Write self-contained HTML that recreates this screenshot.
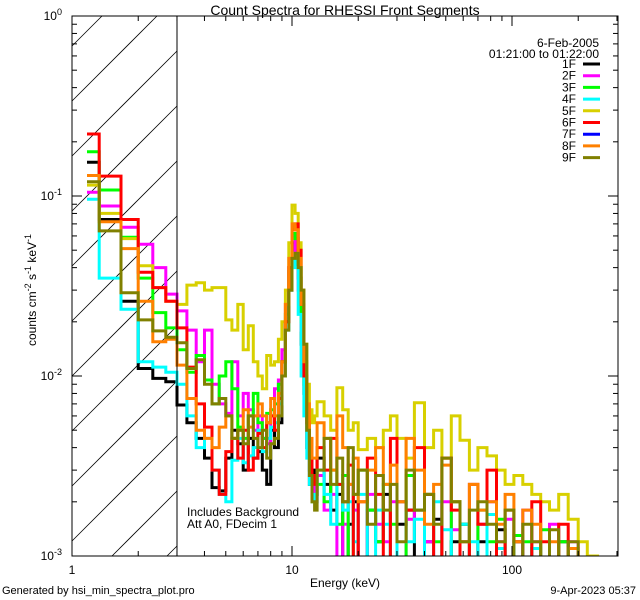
<!DOCTYPE html>
<html><head><meta charset="utf-8">
<style>
html,body{margin:0;padding:0;background:#fff;width:640px;height:600px;overflow:hidden;}
svg{display:block;font-family:"Liberation Sans","DejaVu Sans",sans-serif;}
</style></head>
<body>
<svg id="chart" width="640" height="600" viewBox="0 0 640 600" xmlns="http://www.w3.org/2000/svg">
<defs><clipPath id="plotclip"><rect x="72" y="16" width="546" height="540"/></clipPath></defs>
<rect x="0" y="0" width="640" height="600" fill="#fff"/>
<text x="345" y="15" font-size="14" text-anchor="middle">Count Spectra for RHESSI Front Segments</text>
<g id="hatch"></g>
<g id="series" clip-path="url(#plotclip)"></g>
<rect x="72" y="16" width="546" height="540" fill="none" stroke="#000" stroke-width="1"/>
<line x1="177" y1="16" x2="177" y2="556" stroke="#000" stroke-width="1"/>
<g id="ticks"></g>
<text transform="translate(36,290) rotate(-90)" font-size="12" text-anchor="middle">counts cm<tspan dy="-5" font-size="9">-2</tspan><tspan dy="5"> s</tspan><tspan dy="-5" font-size="9">-1</tspan><tspan dy="5"> keV</tspan><tspan dy="-5" font-size="9">-1</tspan></text>
<text x="345" y="587" font-size="12" text-anchor="middle">Energy (keV)</text>
<text x="187" y="516" font-size="12">Includes Background</text>
<text x="187" y="528" font-size="12">Att A0, FDecim 1</text>
<text x="599" y="47" font-size="12" text-anchor="end">6-Feb-2005</text>
<text x="599" y="58" font-size="12" text-anchor="end">01:21:00 to 01:22:00</text>
<g id="legend"></g>
<text x="2" y="594" font-size="11">Generated by hsi_min_spectra_plot.pro</text>
<text x="636" y="594" font-size="11" text-anchor="end">9-Apr-2023 05:37</text>
</svg>
<script>
const edges = [1.17,1.33,1.67,2,2.33,2.67,3,3.33,3.67,4,4.33,4.67,5,5.33,5.67,6,6.33,6.67,7,7.33,7.67,8,8.33,8.67,9,9.33,9.67,10,10.33,10.67,11,11.33,11.67,12,12.33,12.67,13,
14,15,16,17,18,19,20,22,24,26,28,30,33,36,40,44,48,53,58,64,70,77,85,93,102,112,123,135,148,163,180,200,220,245,270,300];
const seriesNames = ["1F","2F","3F","4F","5F","6F","7F","8F","9F"];
const seriesColors = ["#000000","#ff00ff","#00ff00","#00ffff","#d8d000","#ff0000","#0000ff","#ff8000","#808000"];
const s1F = [0.154,0.074,0.026,0.011,0.0097,0.0093,0.0069,0.0055,0.0045,0.0035,0.0024,0.0023,0.0035,0.0050,0.0042,0.0030,0.0045,0.0035,0.0038,0.0030,0.0025,0.0050,0.0040,0.0055,0.012,0.020,0.030,0.055,0.050,0.035,0.015,0.008,0.004,0.0025,0.003,0.0022,
0.0035,0.0025,0.0018,0.0022,0,0.0015,0.0020,0,0.0018,0.0012,0.0022,0,0.0015,0.0018,0,0.0012,0.0016,0,0.0012,0.0015,0,0.0012,0,0.0014,0,0.0012,0,0.0011,0,0,0.0012,0,0,0,0,0];
const s2F = [0.105,0.088,0.067,0.054,0.040,0.0285,0.023,0.018,0.012,0.018,0.009,0.007,0.0062,0.012,0.006,0.008,0.0065,0.005,0.006,0.0045,0.0042,0.006,0.0085,0.0095,0.014,0.025,0.040,0.060,0.050,0.030,0.018,0.010,0.005,0.003,0.0025,0.002,
0.0028,0.0018,0.0022,0,0.0015,0.0025,0.0018,0,0.0022,0.0015,0.0012,0.0020,0,0.0016,0.0018,0.0012,0,0.0020,0.0014,0.0012,0,0.0015,0.0020,0.0012,0.0016,0,0.0018,0.0012,0,0.0015,0,0.0012,0,0,0,0];
const s3F = [0.176,0.108,0.059,0.035,0.0225,0.0185,0.014,0.0105,0.013,0.0095,0.0070,0.010,0.0120,0.0085,0.0052,0.0045,0.0060,0.0080,0.0055,0.0045,0.0062,0.0065,0.0070,0.0090,0.012,0.022,0.038,0.062,0.058,0.040,0.020,0.009,0.005,0.003,0.002,0.0022,
0.0025,0.0020,0.0030,0.0015,0.0028,0,0.0022,0.0030,0.0018,0.0012,0.0025,0.0015,0,0.0028,0.0018,0.0022,0.0012,0,0.0020,0.0015,0,0.0018,0.0012,0.0016,0,0.0013,0.0012,0,0.0014,0,0.0012,0,0,0,0,0];
const s4F = [0.096,0.035,0.0235,0.012,0.0112,0.0105,0.0090,0.0060,0.0040,0.0045,0.0030,0.0022,0.0020,0.0034,0.0045,0.0033,0.0036,0.0040,0.0050,0.0038,0.0045,0.0052,0.0055,0.0070,0.010,0.018,0.030,0.045,0.040,0.022,0.010,0.006,0.0035,0.0025,0.0022,0.002,
0.0030,0.0022,0.0015,0.0025,0.0018,0.0020,0.0012,0.0022,0,0.0018,0.0015,0,0.0020,0.0012,0.0016,0,0.0020,0.0014,0,0.0015,0.0012,0,0.0017,0.0011,0,0.0012,0,0.0011,0,0,0,0,0,0,0,0];
const s5F = [0.115,0.080,0.058,0.041,0.031,0.026,0.025,0.032,0.033,0.030,0.031,0.031,0.0205,0.018,0.025,0.014,0.019,0.012,0.010,0.0085,0.0130,0.0115,0.0120,0.0160,0.020,0.030,0.055,0.089,0.080,0.055,0.030,0.015,0.009,0.0065,0.0055,0.0060,
0.0072,0.0060,0.0050,0.0086,0.0065,0.0050,0.0055,0.0039,0.0045,0.0040,0.0050,0.0060,0.0045,0.0035,0.0071,0.0040,0.0050,0.0035,0.0060,0.0044,0.0030,0.0040,0.0036,0.0030,0.0025,0.0028,0.0025,0.0022,0.0020,0.0018,0.0022,0.0016,0.0012,0.0010,0,0];
const s6F = [0.221,0.129,0.074,0.0377,0.031,0.026,0.0185,0.0112,0.0070,0.0052,0.0030,0.0022,0.0038,0.0045,0.0035,0.0050,0.0030,0.0035,0.0048,0.0040,0.0055,0.0060,0.0050,0.0075,0.012,0.020,0.040,0.065,0.070,0.050,0.025,0.010,0.0055,0.0035,0.0025,0.0028,
0.0040,0.0030,0.0045,0.0025,0.0020,0.0032,0,0.0020,0.0035,0.0022,0,0.0045,0.0020,0.0018,0.0040,0.0022,0,0.0035,0.0018,0,0.0025,0.0015,0.0030,0,0.0018,0.0012,0,0.0020,0.0012,0,0.0015,0,0,0,0,0];
const s7F = [];
const s8F = [0.13,0.072,0.051,0.026,0.0155,0.016,0.0115,0.0075,0.0050,0.0045,0.0040,0.0052,0.0060,0.0045,0.0050,0.0065,0.0052,0.0060,0.0070,0.0060,0.0055,0.0075,0.0060,0.0080,0.012,0.025,0.045,0.070,0.065,0.045,0.025,0.012,0.007,0.0045,0.0035,0.0035,
0.0055,0.0045,0.0030,0.0060,0.0040,0.0025,0.0035,0.0020,0.0030,0.0040,0.0025,0.0032,0.0020,0.0045,0.0030,0.0015,0.0025,0.0032,0.0020,0.0012,0.0025,0.0018,0.0020,0.0015,0.0022,0.0012,0.0018,0.0015,0,0.0012,0,0.0011,0,0,0,0];
const s9F = [0.12,0.064,0.029,0.0205,0.0178,0.0164,0.0153,0.011,0.0123,0.0090,0.0070,0.0075,0.0060,0.0045,0.0050,0.0042,0.0060,0.0045,0.0040,0.0050,0.0035,0.0042,0.0045,0.0060,0.010,0.018,0.030,0.045,0.048,0.040,0.030,0.015,0.005,0.0028,0.0020,0.0018,
0.0030,0.0045,0.0025,0.0035,0.0020,0.0040,0.0022,0.0030,0.0015,0.0028,0.0018,0.0025,0.0012,0.0030,0.0018,0.0022,0.0015,0.0035,0.0020,0.0012,0.0018,0.0020,0.0015,0.0012,0.0018,0,0.0015,0.0012,0,0.0014,0,0.0012,0,0,0,0];
const seriesValues = [s1F,s2F,s3F,s4F,s5F,s6F,s7F,s8F,s9F];
const xDecadeLabels = ["1","10","100"];
const yDecadeExps = [0,-1,-2,-3];

const NS = "http://www.w3.org/2000/svg";
const X0 = 72, X1 = 618, Y0 = 16, Y1 = 556, XDEC = 220, YDEC = 180, XH = 177;
function xs(e){ return X0 + XDEC*Math.log10(e); }
function ys(v){ return v>0 ? Y0 - YDEC*Math.log10(v) : Y1 + 4; }
function mk(tag, attrs, parent){ const el=document.createElementNS(NS,tag); for(const k in attrs) el.setAttribute(k,attrs[k]); parent.appendChild(el); return el; }

// hatch: lines y = c - (x - X0), clipped to [X0,XH]x[Y0,Y1]
const hatch = document.getElementById('hatch');
for(let c=Y0+30;c<Y1+(XH-X0);c+=55){
  // start point (lower-left)
  let xa = X0, ya = c;
  if(ya > Y1){ xa = X0 + (ya - Y1); ya = Y1; }
  let xb = XH, yb = c - (XH - X0);
  if(yb < Y0){ xb = X0 + (c - Y0); yb = Y0; }
  if(xa >= xb) continue;
  const ln = mk('line',{x1:xa,y1:ya,x2:xb,y2:yb,stroke:'#000','stroke-width':0.8},hatch);
  
  
}

const sg = document.getElementById('series');
seriesValues.forEach((vals,si)=>{
  if(!vals.length) return;
  let d = '';
  for(let i=0;i<vals.length;i++){
    const y = ys(vals[i]).toFixed(1);
    const xa = xs(edges[i]).toFixed(1), xb = Math.min(xs(edges[i+1]),X1).toFixed(1);
    d += (i===0 ? 'M'+xa+','+y : 'L'+xa+','+y) + ' L'+xb+','+y+' ';
  }
  const p = mk('path',{d:d,fill:'none',stroke:seriesColors[si],'stroke-width':3,'stroke-linejoin':'miter'},sg);
  
  
});

const tg = document.getElementById('ticks');
for(let dec=0;dec<3;dec++){
  for(let m=1;m<=9;m++){
    const e = Math.pow(10,dec)*m; const x = xs(e);
    if(x>X1) continue;
    const L = m===1?10:5;
    const t1 = mk('line',{x1:x,y1:Y1,x2:x,y2:Y1-L,stroke:'#000'},tg);
    
    
    const t2 = mk('line',{x1:x,y1:Y0,x2:x,y2:Y0+L,stroke:'#000'},tg);
    
    
  }
}
xDecadeLabels.forEach((lab,i)=>{
  const t = mk('text',{x:xs(Math.pow(10,i)),y:574,'font-size':12,'text-anchor':'middle'},tg);
  t.textContent = lab;
  
  
});
yDecadeExps.forEach((ex)=>{
  for(let m=1;m<=9;m++){
    if(ex===0 && m>1) continue;
    const y = ys(Math.pow(10,ex)*m);
    const L = m===1?10:5;
    const a = mk('line',{x1:X0,y1:y,x2:X0+L,y2:y,stroke:'#000'},tg);
    
    
    const b = mk('line',{x1:X1,y1:y,x2:X1-L,y2:y,stroke:'#000'},tg);
    
    
  }
  const t = mk('text',{x:62,y:ys(Math.pow(10,ex))+4,'font-size':12,'text-anchor':'end'},tg);
  t.textContent = '10';
  const sp = mk('tspan',{dy:-5,'font-size':9},t);
  sp.textContent = String(ex);
  
  
});

const lg = document.getElementById('legend');
seriesNames.forEach((n,i)=>{
  const y = 64 + i*11.7;
  const t = mk('text',{x:576,y:y+4,'font-size':12,'text-anchor':'end'},lg);
  t.textContent = n;
  
  
  const l = mk('line',{x1:583,y1:y,x2:600,y2:y,stroke:seriesColors[i],'stroke-width':3},lg);
  
  
});
</script>
</body></html>
